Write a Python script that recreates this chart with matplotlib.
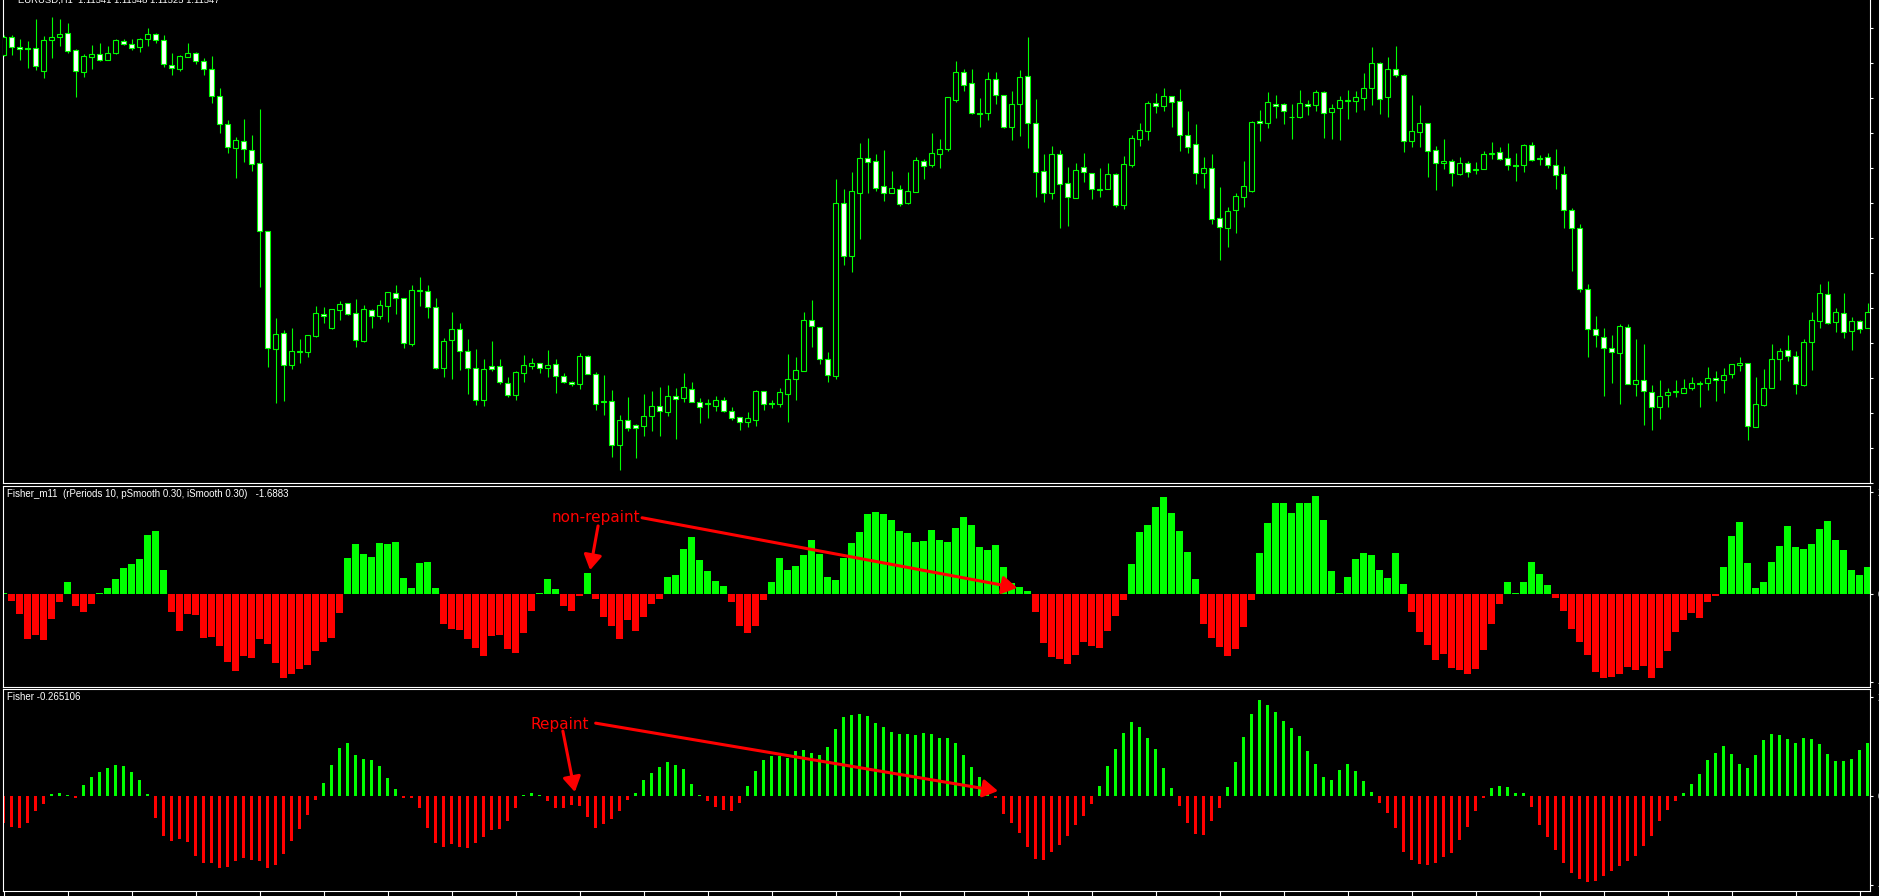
import numpy as np
import matplotlib
matplotlib.use('Agg')
import matplotlib.pyplot as plt

# EURUSD H1 candles, oldest bar first
opens = [
    1.12317, 1.12370, 1.12340, 1.12337, 1.12337, 1.12270, 1.12361, 1.12370, 1.12382, 1.12331,
    1.12267, 1.12312, 1.12319, 1.12303, 1.12324, 1.12358, 1.12349, 1.12342, 1.12364, 1.12379,
    1.12361, 1.12286, 1.12276, 1.12310, 1.12322, 1.12298, 1.12274, 1.12193, 1.12111, 1.12039,
    1.12060, 1.12031, 1.11992, 1.11788, 1.11436, 1.11482, 1.11386, 1.11427, 1.11427, 1.11475,
    1.11540, 1.11498, 1.11551, 1.11572, 1.11542, 1.11459, 1.11551, 1.11533, 1.11563, 1.11602,
    1.11587, 1.11451, 1.11608, 1.11608, 1.11560, 1.11377, 1.11461, 1.11494, 1.11428, 1.11377,
    1.11283, 1.11383, 1.11383, 1.11332, 1.11298, 1.11364, 1.11385, 1.11392, 1.11379, 1.11389,
    1.11353, 1.11335, 1.11331, 1.11413, 1.11361, 1.11278, 1.11278, 1.11148, 1.11222, 1.11207,
    1.11205, 1.11235, 1.11263, 1.11247, 1.11295, 1.11289, 1.11314, 1.11275, 1.11274, 1.11265,
    1.11281, 1.11250, 1.11230, 1.11217, 1.11223, 1.11308, 1.11272, 1.11271, 1.11301, 1.11344,
    1.11370, 1.11521, 1.11500, 1.11404, 1.11355, 1.11872, 1.11715, 1.11904, 1.12007, 1.11998,
    1.11923, 1.11904, 1.11914, 1.11874, 1.11907, 1.11998, 1.11988, 1.12021, 1.12036, 1.12183,
    1.12265, 1.12232, 1.12144, 1.12144, 1.12244, 1.12198, 1.12102, 1.12171, 1.12253, 1.12112,
    1.11968, 1.11904, 1.12019, 1.11933, 1.11889, 1.11980, 1.11962, 1.11915, 1.11914, 1.11959,
    1.11866, 1.11986, 1.12064, 1.12088, 1.12172, 1.12165, 1.12193, 1.12178, 1.12076, 1.12049,
    1.11962, 1.11977, 1.11827, 1.11799, 1.11851, 1.11892, 1.11910, 1.12118, 1.12112, 1.12171,
    1.12169, 1.12131, 1.12130, 1.12171, 1.12166, 1.12205, 1.12145, 1.12157, 1.12180, 1.12178,
    1.12189, 1.12217, 1.12292, 1.12190, 1.12274, 1.12256, 1.12058, 1.12085, 1.12112, 1.12031,
    1.11992, 1.11998, 1.11959, 1.11992, 1.11971, 1.11976, 1.12021, 1.12025, 1.12007, 1.11987,
    1.11986, 1.12046, 1.12007, 1.12010, 1.11986, 1.11959, 1.11851, 1.11797, 1.11614, 1.11494,
    1.11472, 1.11437, 1.11422, 1.11500, 1.11329, 1.11341, 1.11305, 1.11260, 1.11296, 1.11305,
    1.11302, 1.11317, 1.11329, 1.11332, 1.11347, 1.11341, 1.11360, 1.11386, 1.11392, 1.11200,
    1.11266, 1.11317, 1.11406, 1.11432, 1.11414, 1.11328, 1.11455, 1.11518, 1.11600, 1.11515,
    1.11542, 1.11488, 1.11518, 1.11499]
highs = [
    1.12377, 1.12377, 1.12364, 1.12359, 1.12425, 1.12374, 1.12431, 1.12425, 1.12413, 1.12334,
    1.12319, 1.12347, 1.12353, 1.12344, 1.12365, 1.12365, 1.12365, 1.12368, 1.12398, 1.12382,
    1.12377, 1.12323, 1.12317, 1.12353, 1.12326, 1.12308, 1.12314, 1.12218, 1.12121, 1.12070,
    1.12125, 1.12077, 1.12155, 1.11788, 1.11528, 1.11492, 1.11498, 1.11465, 1.11476, 1.11564,
    1.11561, 1.11556, 1.11579, 1.11572, 1.11585, 1.11567, 1.11554, 1.11582, 1.11605, 1.11627,
    1.11587, 1.11627, 1.11651, 1.11627, 1.11588, 1.11468, 1.11546, 1.11513, 1.11465, 1.11435,
    1.11405, 1.11459, 1.11405, 1.11351, 1.11370, 1.11417, 1.11408, 1.11393, 1.11432, 1.11405,
    1.11363, 1.11340, 1.11423, 1.11416, 1.11366, 1.11357, 1.11312, 1.11237, 1.11291, 1.11210,
    1.11300, 1.11309, 1.11321, 1.11327, 1.11318, 1.11363, 1.11336, 1.11288, 1.11285, 1.11294,
    1.11292, 1.11261, 1.11230, 1.11247, 1.11312, 1.11308, 1.11282, 1.11318, 1.11420, 1.11411,
    1.11546, 1.11582, 1.11500, 1.11426, 1.11945, 1.11915, 1.11966, 1.12052, 1.12068, 1.12020,
    1.12032, 1.11969, 1.11927, 1.11966, 1.12011, 1.12005, 1.12083, 1.12065, 1.12190, 1.12299,
    1.12275, 1.12275, 1.12188, 1.12265, 1.12265, 1.12198, 1.12208, 1.12271, 1.12371, 1.12185,
    1.12020, 1.12044, 1.12032, 1.11981, 1.11993, 1.12023, 1.11962, 1.11978, 1.11993, 1.11962,
    1.12014, 1.12076, 1.12112, 1.12178, 1.12202, 1.12217, 1.12195, 1.12214, 1.12149, 1.12109,
    1.12011, 1.12020, 1.11920, 1.11861, 1.11902, 1.11999, 1.12119, 1.12152, 1.12205, 1.12196,
    1.12173, 1.12169, 1.12212, 1.12182, 1.12212, 1.12208, 1.12169, 1.12193, 1.12212, 1.12209,
    1.12263, 1.12341, 1.12296, 1.12311, 1.12344, 1.12260, 1.12196, 1.12166, 1.12114, 1.12044,
    1.12065, 1.12004, 1.12010, 1.11998, 1.11995, 1.12028, 1.12056, 1.12040, 1.12052, 1.12023,
    1.12050, 1.12056, 1.12016, 1.12022, 1.12035, 1.11984, 1.11857, 1.11810, 1.11630, 1.11534,
    1.11499, 1.11477, 1.11510, 1.11510, 1.11465, 1.11450, 1.11326, 1.11342, 1.11319, 1.11342,
    1.11345, 1.11351, 1.11339, 1.11381, 1.11369, 1.11378, 1.11390, 1.11411, 1.11392, 1.11351,
    1.11375, 1.11450, 1.11438, 1.11477, 1.11429, 1.11465, 1.11546, 1.11630, 1.11639, 1.11558,
    1.11603, 1.11530, 1.11521, 1.11572]
lows = [
    1.12314, 1.12317, 1.12302, 1.12279, 1.12272, 1.12249, 1.12308, 1.12344, 1.12324, 1.12191,
    1.12251, 1.12275, 1.12299, 1.12302, 1.12320, 1.12347, 1.12332, 1.12326, 1.12344, 1.12353,
    1.12282, 1.12257, 1.12269, 1.12310, 1.12291, 1.12257, 1.12174, 1.12084, 1.12024, 1.11949,
    1.11997, 1.11970, 1.11622, 1.11382, 1.11274, 1.11280, 1.11376, 1.11392, 1.11412, 1.11472,
    1.11512, 1.11495, 1.11522, 1.11537, 1.11442, 1.11457, 1.11499, 1.11526, 1.11516, 1.11540,
    1.11439, 1.11445, 1.11564, 1.11529, 1.11374, 1.11352, 1.11346, 1.11373, 1.11301, 1.11268,
    1.11265, 1.11368, 1.11331, 1.11291, 1.11283, 1.11337, 1.11376, 1.11364, 1.11352, 1.11304,
    1.11334, 1.11325, 1.11315, 1.11361, 1.11253, 1.11238, 1.11112, 1.11073, 1.11190, 1.11109,
    1.11175, 1.11190, 1.11175, 1.11235, 1.11166, 1.11276, 1.11277, 1.11214, 1.11229, 1.11250,
    1.11246, 1.11223, 1.11193, 1.11202, 1.11205, 1.11253, 1.11259, 1.11262, 1.11217, 1.11283,
    1.11370, 1.11442, 1.11391, 1.11337, 1.11346, 1.11688, 1.11667, 1.11766, 1.11904, 1.11910,
    1.11880, 1.11904, 1.11865, 1.11871, 1.11907, 1.11945, 1.11982, 1.11979, 1.12030, 1.12177,
    1.12210, 1.12141, 1.12102, 1.12123, 1.12171, 1.12098, 1.12063, 1.12075, 1.12039, 1.11892,
    1.11877, 1.11886, 1.11799, 1.11805, 1.11889, 1.11935, 1.11886, 1.11892, 1.11914, 1.11860,
    1.11856, 1.11980, 1.12044, 1.12063, 1.12144, 1.12150, 1.12102, 1.12030, 1.12024, 1.11931,
    1.11919, 1.11811, 1.11703, 1.11742, 1.11784, 1.11862, 1.11907, 1.12060, 1.12098, 1.12129,
    1.12111, 1.12066, 1.12127, 1.12136, 1.12150, 1.12069, 1.12066, 1.12063, 1.12126, 1.12147,
    1.12153, 1.12168, 1.12141, 1.12132, 1.12250, 1.12027, 1.12042, 1.12042, 1.11952, 1.11913,
    1.11976, 1.11925, 1.11956, 1.11952, 1.11959, 1.11974, 1.12005, 1.12003, 1.11973, 1.11940,
    1.11967, 1.12000, 1.11988, 1.11977, 1.11916, 1.11799, 1.11670, 1.11605, 1.11412, 1.11442,
    1.11295, 1.11334, 1.11271, 1.11329, 1.11295, 1.11208, 1.11193, 1.11226, 1.11262, 1.11292,
    1.11302, 1.11311, 1.11262, 1.11313, 1.11280, 1.11304, 1.11349, 1.11369, 1.11163, 1.11200,
    1.11263, 1.11317, 1.11343, 1.11399, 1.11301, 1.11325, 1.11373, 1.11497, 1.11509, 1.11485,
    1.11469, 1.11433, 1.11482, 1.11499]
closes = [
    1.12370, 1.12340, 1.12335, 1.12336, 1.12285, 1.12361, 1.12370, 1.12380, 1.12330, 1.12268,
    1.12314, 1.12320, 1.12303, 1.12323, 1.12361, 1.12349, 1.12339, 1.12364, 1.12379, 1.12361,
    1.12289, 1.12277, 1.12314, 1.12322, 1.12300, 1.12274, 1.12193, 1.12111, 1.12040, 1.12061,
    1.12034, 1.11991, 1.11788, 1.11437, 1.11479, 1.11388, 1.11428, 1.11430, 1.11476, 1.11542,
    1.11533, 1.11554, 1.11569, 1.11541, 1.11461, 1.11554, 1.11533, 1.11566, 1.11605, 1.11587,
    1.11452, 1.11611, 1.11611, 1.11561, 1.11377, 1.11458, 1.11494, 1.11428, 1.11377, 1.11282,
    1.11374, 1.11376, 1.11335, 1.11296, 1.11366, 1.11386, 1.11392, 1.11379, 1.11386, 1.11355,
    1.11337, 1.11329, 1.11413, 1.11361, 1.11271, 1.11277, 1.11148, 1.11222, 1.11199, 1.11199,
    1.11233, 1.11263, 1.11248, 1.11293, 1.11286, 1.11320, 1.11277, 1.11262, 1.11271, 1.11281,
    1.11250, 1.11229, 1.11217, 1.11227, 1.11308, 1.11269, 1.11269, 1.11305, 1.11344, 1.11372,
    1.11521, 1.11503, 1.11404, 1.11356, 1.11872, 1.11715, 1.11908, 1.12007, 1.11997, 1.11919,
    1.11904, 1.11917, 1.11869, 1.11908, 1.12001, 1.11985, 1.12022, 1.12034, 1.12190, 1.12265,
    1.12228, 1.12144, 1.12141, 1.12244, 1.12196, 1.12100, 1.12169, 1.12250, 1.12112, 1.11967,
    1.11902, 1.12019, 1.11929, 1.11892, 1.11971, 1.11965, 1.11914, 1.11911, 1.11959, 1.11866,
    1.11989, 1.12067, 1.12091, 1.12172, 1.12165, 1.12193, 1.12175, 1.12076, 1.12040, 1.11962,
    1.11977, 1.11824, 1.11802, 1.11848, 1.11893, 1.11923, 1.12115, 1.12112, 1.12175, 1.12163,
    1.12148, 1.12130, 1.12172, 1.12163, 1.12205, 1.12142, 1.12157, 1.12181, 1.12182, 1.12190,
    1.12217, 1.12292, 1.12186, 1.12274, 1.12256, 1.12058, 1.12088, 1.12112, 1.12028, 1.11992,
    1.11998, 1.11962, 1.11992, 1.11965, 1.11974, 1.12019, 1.12022, 1.12004, 1.11986, 1.11985,
    1.12046, 1.12003, 1.12005, 1.11986, 1.11956, 1.11851, 1.11797, 1.11614, 1.11494, 1.11476,
    1.11437, 1.11425, 1.11503, 1.11329, 1.11341, 1.11308, 1.11260, 1.11293, 1.11305, 1.11308,
    1.11317, 1.11332, 1.11332, 1.11347, 1.11341, 1.11356, 1.11389, 1.11392, 1.11203, 1.11269,
    1.11317, 1.11404, 1.11429, 1.11413, 1.11329, 1.11455, 1.11521, 1.11603, 1.11512, 1.11545,
    1.11485, 1.11518, 1.11494, 1.11547]

# Fisher_m11 histogram (middle window)
fisher_m11 = [
    0.01, -0.14, -0.39, -0.89, -0.81, -0.90, -0.49, -0.16, 0.24, -0.24,
    -0.35, -0.20, 0.02, 0.12, 0.30, 0.51, 0.59, 0.69, 1.16, 1.24,
    0.47, -0.35, -0.73, -0.39, -0.41, -0.87, -0.85, -1.02, -1.34, -1.51,
    -1.22, -1.26, -0.89, -0.98, -1.36, -1.65, -1.57, -1.48, -1.40, -1.12,
    -0.94, -0.87, -0.37, 0.71, 0.98, 0.79, 0.73, 1.00, 0.98, 1.02,
    0.31, 0.12, 0.61, 0.63, 0.12, -0.59, -0.69, -0.71, -0.89, -1.06,
    -1.22, -0.83, -0.81, -1.08, -1.16, -0.76, -0.33, 0.01, 0.30, 0.10,
    -0.24, -0.33, -0.04, 0.41, -0.10, -0.45, -0.63, -0.89, -0.51, -0.73,
    -0.45, -0.20, -0.10, 0.33, 0.37, 0.89, 1.12, 0.67, 0.45, 0.26,
    0.16, -0.16, -0.63, -0.77, -0.63, -0.12, 0.24, 0.71, 0.47, 0.55,
    0.77, 1.06, 0.79, 0.33, 0.28, 0.71, 1.00, 1.22, 1.57, 1.61,
    1.57, 1.46, 1.24, 1.20, 1.02, 1.04, 1.26, 1.06, 1.02, 1.30,
    1.51, 1.36, 0.92, 0.87, 0.96, 0.53, 0.22, 0.14, 0.06, -0.35,
    -0.96, -1.24, -1.28, -1.38, -1.20, -0.94, -1.02, -1.06, -0.73, -0.43,
    -0.12, 0.59, 1.22, 1.36, 1.71, 1.91, 1.59, 1.24, 0.83, 0.30,
    -0.59, -0.87, -1.04, -1.22, -1.08, -0.65, -0.12, 0.81, 1.40, 1.79,
    1.79, 1.59, 1.79, 1.79, 1.93, 1.46, 0.45, 0.02, 0.33, 0.69,
    0.81, 0.77, 0.47, 0.31, 0.81, 0.20, -0.35, -0.75, -1.00, -1.30,
    -1.18, -1.46, -1.50, -1.57, -1.48, -1.10, -0.59, -0.20, 0.24, 0.01,
    0.24, 0.63, 0.39, 0.18, -0.08, -0.33, -0.69, -0.94, -1.20, -1.53,
    -1.65, -1.63, -1.57, -1.44, -1.50, -1.42, -1.65, -1.46, -1.12, -0.75,
    -0.51, -0.37, -0.47, -0.16, -0.04, 0.53, 1.14, 1.42, 0.61, 0.12,
    0.24, 0.63, 0.94, 1.34, 0.92, 0.89, 0.98, 1.28, 1.44, 1.06,
    0.87, 0.47, 0.37, 0.53]

# Fisher histogram (bottom window)
fisher = [
    -0.55, -0.63, -0.65, -0.55, -0.30, -0.16, 0.04, 0.06, 0.02, -0.04,
    0.22, 0.38, 0.48, 0.57, 0.63, 0.61, 0.48, 0.32, 0.04, -0.44,
    -0.80, -0.91, -0.87, -0.93, -1.21, -1.35, -1.35, -1.45, -1.43, -1.31,
    -1.25, -1.29, -1.31, -1.45, -1.39, -1.17, -0.91, -0.67, -0.38, -0.08,
    0.26, 0.63, 0.97, 1.07, 0.83, 0.75, 0.73, 0.61, 0.36, 0.14,
    -0.05, -0.05, -0.24, -0.65, -0.95, -1.03, -0.97, -1.03, -1.05, -0.95,
    -0.83, -0.69, -0.67, -0.51, -0.24, 0.02, 0.06, 0.02, -0.10, -0.24,
    -0.24, -0.18, -0.20, -0.42, -0.65, -0.57, -0.46, -0.30, -0.08, 0.06,
    0.32, 0.46, 0.59, 0.69, 0.63, 0.55, 0.24, 0.02, -0.10, -0.22,
    -0.28, -0.30, -0.14, 0.20, 0.51, 0.73, 0.81, 0.81, 0.77, 0.91,
    0.93, 0.87, 0.83, 0.99, 1.35, 1.60, 1.64, 1.66, 1.62, 1.47,
    1.39, 1.29, 1.25, 1.25, 1.23, 1.27, 1.25, 1.17, 1.17, 1.07,
    0.83, 0.59, 0.38, 0.12, -0.04, -0.36, -0.55, -0.75, -1.03, -1.27,
    -1.29, -1.13, -0.99, -0.81, -0.59, -0.40, -0.16, 0.20, 0.61, 0.95,
    1.27, 1.49, 1.39, 1.17, 0.95, 0.57, 0.16, -0.20, -0.55, -0.77,
    -0.79, -0.51, -0.24, 0.18, 0.69, 1.19, 1.66, 1.94, 1.84, 1.70,
    1.52, 1.37, 1.21, 0.91, 0.65, 0.38, 0.32, 0.53, 0.65, 0.51,
    0.30, 0.08, -0.14, -0.34, -0.65, -1.13, -1.29, -1.37, -1.39, -1.35,
    -1.23, -1.15, -0.89, -0.63, -0.30, -0.04, 0.16, 0.20, 0.18, 0.06,
    0.06, -0.22, -0.59, -0.83, -1.09, -1.35, -1.56, -1.68, -1.74, -1.72,
    -1.62, -1.52, -1.41, -1.31, -1.21, -1.01, -0.81, -0.51, -0.28, -0.10,
    0.06, 0.24, 0.44, 0.73, 0.87, 1.01, 0.85, 0.65, 0.57, 0.83,
    1.13, 1.25, 1.23, 1.15, 1.07, 1.17, 1.15, 1.05, 0.85, 0.71,
    0.71, 0.75, 0.93, 1.07]

title_main = "EURUSD,H1  1.11541 1.11548 1.11525 1.11547"
title_m11 = "Fisher_m11  (rPeriods 10, pSmooth 0.30, iSmooth 0.30)   -1.6883"
title_fisher = "Fisher -0.265106"

LIME = '#00ff00'
RED = '#ff0000'
W, H = 1879, 896


def box(x0, y0, x1, y1):
    # pixel rectangle (top-left origin) -> figure fraction
    return [x0 / W, 1 - y1 / H, (x1 - x0) / W, (y1 - y0) / H]


fig = plt.figure(figsize=(W / 100, H / 100), dpi=100, facecolor='black')
ax0 = fig.add_axes(box(2.5, 0, 1870, 483))
ax1 = fig.add_axes(box(2.5, 486, 1870, 687))
ax2 = fig.add_axes(box(2.5, 689, 1870, 891))

for ax in (ax0, ax1, ax2):
    ax.set_facecolor('black')
    for s in ax.spines.values():
        s.set_color('white')
        s.set_linewidth(0.8)
    ax.yaxis.tick_right()
    ax.tick_params(axis='y', colors='white', length=2.5, width=0.8, pad=3,
                   labelsize=8, labelcolor='white')
    ax.tick_params(axis='x', bottom=False, labelbottom=False)
    ax.set_xlim(-0.15, 233.3)
ax0.spines['top'].set_visible(False)

# --- price candles
o = np.array(opens)
h = np.array(highs)
l = np.array(lows)
c = np.array(closes)
x = np.arange(len(o))
bull = c > o
ax0.vlines(x, l, h, color=LIME, lw=0.8, zorder=2)
ax0.bar(x, np.abs(c - o), bottom=np.minimum(o, c), width=0.62,
        color=np.where(bull, 'black', 'white'), edgecolor=LIME,
        linewidth=0.8, zorder=3)
ax0.set_ylim(1.11033, 1.12482)
pticks = 1.12399 - 0.00105 * np.arange(14)
ax0.set_yticks(pticks)
ax0.set_yticklabels(['%.5f' % p for p in pticks], family='Liberation Sans')

# --- Fisher_m11
v1 = np.array(fisher_m11)
ax1.bar(x, v1, width=0.875, color=np.where(v1 >= 0, LIME, RED), linewidth=0)
ax1.set_ylim(-1.83, 2.125)
ax1.set_yticks([2.0, 0.0, -1.73])
ax1.set_yticklabels(['2.1249', '0.00', '-1.8306'], family='Liberation Sans')

# --- Fisher
v2 = np.array(fisher)
ax2.bar(x, v2, width=0.34, color=np.where(v2 >= 0, LIME, RED), linewidth=0)
ax2.set_ylim(-1.92, 2.16)
ax2.set_yticks([2.0, 0.0, -1.8])
ax2.set_yticklabels(['2.1612', '0.00', '-1.9236'], family='Liberation Sans')
ax2.set_xticks(np.arange(0, len(x), 8))
ax2.tick_params(axis='x', bottom=True, direction='out', length=4, width=0.8,
                colors='white', labelbottom=False)

# --- window captions
fig.text(18 / W, 1 - 3 / H, title_main, color='white', fontsize=6.8,
         family='Liberation Sans', va='baseline')
fig.text(7 / W, 1 - 489 / H, title_m11, color='white', fontsize=7,
         family='Liberation Sans', va='top')
fig.text(7 / W, 1 - 692 / H, title_fisher, color='white', fontsize=7,
         family='Liberation Sans', va='top')

# --- hand-drawn annotations
arrow = dict(arrowstyle='-|>,head_length=0.5,head_width=0.3', color=RED,
             lw=2.2, mutation_scale=18, shrinkA=0, shrinkB=0)
ax1.text(74.0, 1.50, 'non-repaint', color=RED, fontsize=11,
         ha='center', va='center', zorder=6)
ax1.annotate('', xy=(73.3, 0.47), xytext=(74.3, 1.34), arrowprops=arrow, zorder=6)
ax1.annotate('', xy=(126.7, 0.12), xytext=(79.8, 1.50), arrowprops=arrow, zorder=6)

ax2.text(69.5, 1.45, 'Repaint', color=RED, fontsize=11,
         ha='center', va='center', zorder=6)
ax2.annotate('', xy=(71.4, 0.08), xytext=(69.9, 1.31), arrowprops=arrow, zorder=6)
ax2.annotate('', xy=(124.3, 0.10), xytext=(74.0, 1.47), arrowprops=arrow, zorder=6)

fig.savefig('out.png', dpi=100, facecolor='black')
